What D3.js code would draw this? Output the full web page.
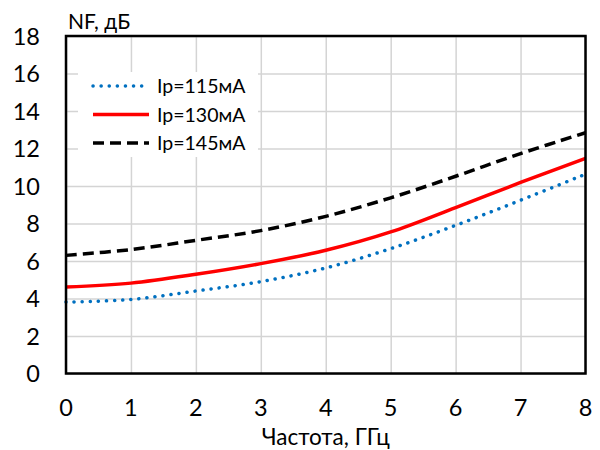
<!DOCTYPE html>
<html>
<head>
<meta charset="utf-8">
<script src="https://cdn.jsdelivr.net/npm/d3@7"></script>
<style>
  body { margin: 0; background: #fff; }
  text { font-family: Lato, "Open Sans", sans-serif; fill: #000; }
</style>
</head>
<body>
<svg id="chart" width="600" height="450"></svg>
<script>
// frequency, GHz
var freq = [0, 1, 2, 3, 4, 5, 6, 7, 8];
// NF, dB for each Ip
var nf115 = [3.81, 3.95, 4.40, 4.90, 5.63, 6.66, 7.90, 9.24, 10.63];
var nf130 = [4.61, 4.82, 5.29, 5.86, 6.57, 7.55, 8.85, 10.19, 11.47];
var nf145 = [6.30, 6.61, 7.10, 7.62, 8.38, 9.37, 10.52, 11.73, 12.84];
var seriesNames = ["Ip=115мА", "Ip=130мА", "Ip=145мА"];
var xTicks = [0, 1, 2, 3, 4, 5, 6, 7, 8];
var yTicks = [0, 2, 4, 6, 8, 10, 12, 14, 16, 18];

var svg = d3.select("#chart");
var plotL = 66, plotR = 585.5, plotT = 36, plotB = 373.5;

var x = d3.scaleLinear().domain([0, 8]).range([plotL, plotR]);
var y = d3.scaleLinear().domain([0, 18]).range([plotB, plotT]);

// grid
svg.append("g")
    .attr("transform", "translate(0," + plotB + ")")
    .call(d3.axisBottom(x).tickValues(xTicks).tickSize(-(plotB - plotT)).tickFormat(""))
    .call(function(g) { g.select(".domain").remove(); })
    .selectAll("line").attr("stroke", "#d4d4d4").attr("stroke-width", 1.5);
svg.append("g")
    .attr("transform", "translate(" + plotL + ",0)")
    .call(d3.axisLeft(y).tickValues(yTicks).tickSize(-(plotR - plotL)).tickFormat(""))
    .call(function(g) { g.select(".domain").remove(); })
    .selectAll("line").attr("stroke", "#d4d4d4").attr("stroke-width", 1.5);

// tick labels
svg.append("g").selectAll("text")
    .data(xTicks).enter().append("text")
    .attr("x", function(d) { return x(d); })
    .attr("y", 415.5)
    .attr("text-anchor", "middle")
    .style("font-size", "23.5px")
    .text(function(d) { return d; });
svg.append("g").selectAll("text")
    .data(yTicks).enter().append("text")
    .attr("x", 40)
    .attr("y", function(d) { return y(d) + 8.5; })
    .attr("text-anchor", "end")
    .style("font-size", "23.5px")
    .text(function(d) { return d; });

// axis titles
svg.append("text").attr("x", 68).attr("y", 28.5)
    .style("font-size", "21px").text("NF, дБ");
svg.append("text").attr("x", (plotL + plotR) / 2).attr("y", 444.5)
    .attr("text-anchor", "middle")
    .style("font-size", "22.5px").text("Частота, ГГц");

// lines
var styles = [
  { color: "#0070C0", dash: "0.1 8", cap: "round" },
  { color: "#FF0000", dash: null, cap: "butt" },
  { color: "#000000", dash: "11 6", cap: "butt" }
];
var allSeries = [nf115, nf130, nf145];

var line = d3.line()
    .x(function(d, i) { return x(freq[i]); })
    .y(function(d) { return y(d); })
    .curve(d3.curveCatmullRom);

svg.append("g").selectAll("path")
    .data(allSeries).enter().append("path")
    .attr("d", line)
    .attr("fill", "none")
    .attr("stroke", function(d, i) { return styles[i].color; })
    .attr("stroke-width", 3.5)
    .attr("stroke-linecap", function(d, i) { return styles[i].cap; })
    .attr("stroke-dasharray", function(d, i) { return styles[i].dash; });

// frame
svg.append("rect")
    .attr("x", plotL).attr("y", plotT)
    .attr("width", plotR - plotL).attr("height", plotB - plotT)
    .attr("fill", "none").attr("stroke", "#000").attr("stroke-width", 2.5);

// legend
var legend = svg.append("g");
legend.append("rect")
    .attr("x", 78).attr("y", 72).attr("width", 180).attr("height", 85)
    .attr("fill", "#fff");
var rows = legend.selectAll("g.row")
    .data(seriesNames).enter().append("g")
    .attr("class", "row")
    .attr("transform", function(d, i) { return "translate(0," + (86 + i * 28.5) + ")"; });
rows.append("line")
    .attr("x1", 93).attr("x2", 149)
    .attr("stroke", function(d, i) { return styles[i].color; })
    .attr("stroke-width", 3.5)
    .attr("stroke-linecap", function(d, i) { return styles[i].cap; })
    .attr("stroke-dasharray", function(d, i) { return styles[i].dash; });
rows.append("text")
    .attr("x", 157).attr("y", 7)
    .style("font-size", "19.5px")
    .text(function(d) { return d; });
</script>
</body>
</html>
